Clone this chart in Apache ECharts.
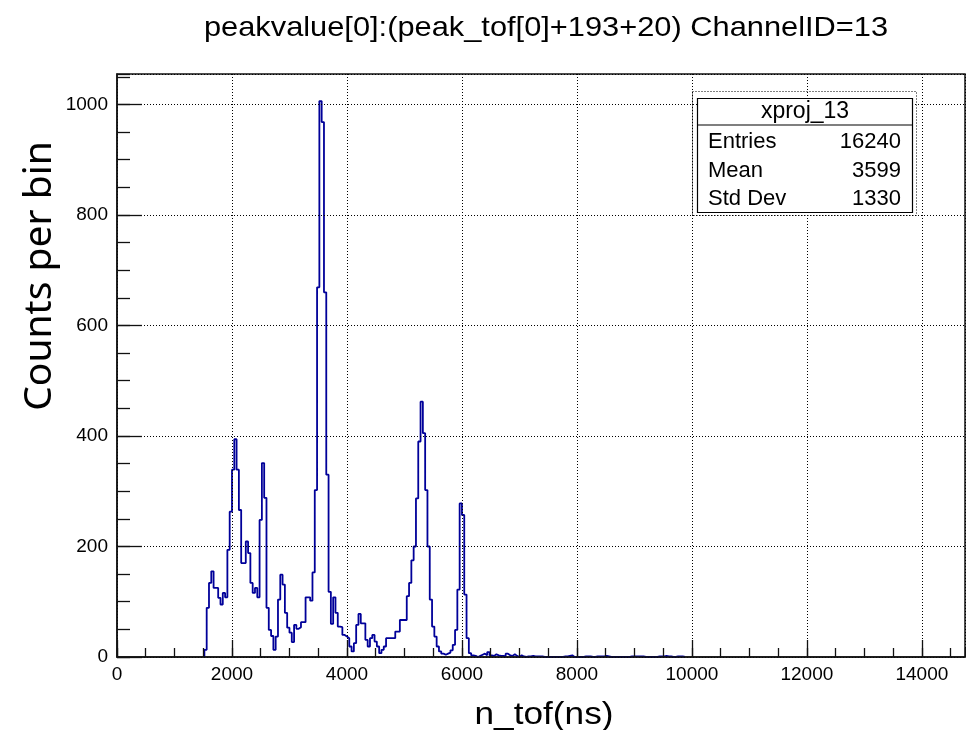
<!DOCTYPE html>
<html><head><meta charset="utf-8">
<script src="https://cdn.jsdelivr.net/npm/echarts@6/dist/echarts.min.js"></script>
<style>html,body{margin:0;padding:0;background:#fff}#c{width:966px;height:730px}</style>
</head><body><div id="c"></div>
<script>
// Histogram: 40 ns bins starting at 1520 ns
const binStart = 1520;
const binWidth = 40;
// 1520 .. 2980
const countsA = [13, 89, 134, 155, 125, 125, 107, 95, 116, 108,
  194, 263, 339, 394, 339, 266, 170, 170, 209, 188,
  134, 116, 125, 108, 248, 351, 288, 89, 49, 38,
  13, 37, 104, 149, 131, 80, 53];
// 3000 .. 4960
const countsB = [44, 27, 58, 51, 54, 63, 63, 108, 108, 102,
  153, 302, 669, 1006, 968, 660, 330, 118, 60, 108,
  80, 55, 54, 40, 37, 34, 19, 10, 25, 58,
  78, 61, 61, 31, 19, 34, 40, 28, 19, 7,
  13, 19, 34, 34, 34, 34, 46, 46, 67, 67];
// 5000 .. 6160
const countsC = [67, 110, 134, 175, 200, 287, 390, 462, 405, 302,
  200, 104, 55, 37, 19, 10, 6, 4, 6, 8,
  12, 22, 49, 122, 278, 257, 113, 34, 7, 3];
// 6200 .. 9760
const countsD = [2, 0, 2, 4, 6, 3, 9, 3, 2, 5,
  3, 2, 2, 1, 6, 3, 2, 5, 2, 0,
  3, 1, 0, 1, 1, 2, 1, 1, 1, 1,
  0, 0, 0, 0, 0, 0, 0, 0, 0, 1,
  1, 2, 3, 0, 0, 0, 0, 0, 1, 1,
  1, 0, 0, 1, 1, 1, 1, 2, 1, 0,
  0, 0, 0, 0, 0, 0, 0, 0, 1, 1,
  1, 1, 1, 1, 0, 0, 0, 0, 0, 0,
  1, 1, 1, 2, 1, 1, 0, 0, 1, 1,
  1, 0];
const counts = countsA.concat(countsB, countsC, countsD);

const xMin = 0, xMax = 14750, xMajor = 2000, xMinor = 500;
const yMin = 0, yMax = 1055, yMajor = 200, yMinor = 50;

const titleText = 'peakvalue[0]:(peak_tof[0]+193+20) ChannelID=13';
const xTitle = 'n_tof(ns)';
const yTitle = 'Counts per bin';
const statsName = 'xproj_13';
const statsLabels = ['Entries', 'Mean', 'Std Dev'];
const statsValues = ['16240', '3599', '1330'];

const data = [[binStart, 0]];
counts.forEach((c, i) => data.push([binStart + i * binWidth, c]));
data.push([binStart + counts.length * binWidth, 0]);

const font = 'Liberation Sans, Arial, Helvetica, sans-serif';
const chart = echarts.init(document.getElementById('c'), null, {renderer: 'canvas'});

const plain = v => String(v);
const gridLine = {show: true, lineStyle: {color: '#000', type: [1, 2], width: 1}};
const option = {
  animation: false,
  backgroundColor: '#fff',
  grid: {left: 117, right: 1, top: 74, bottom: 73, show: true, borderColor: '#111', borderWidth: 1.5, backgroundColor: 'transparent'},
  xAxis: [
    {type: 'value', min: xMin, max: xMax, interval: xMajor, position: 'bottom', z: 5,
     axisLine: {show: true, onZero: false, lineStyle: {color: '#111', width: 1.5}},
     axisTick: {show: true, inside: true, length: 17, lineStyle: {color: '#111', width: 1.3}},
     axisLabel: {show: true, showMaxLabel: false, margin: 8, color: '#000', fontFamily: font, fontSize: 19, formatter: plain},
     splitLine: gridLine},
    {type: 'value', min: xMin, max: xMax, interval: xMinor, position: 'bottom', z: 5,
     axisLine: {show: false},
     axisTick: {show: true, inside: true, length: 9, lineStyle: {color: '#111', width: 1.3}},
     axisLabel: {show: false}, splitLine: {show: false}}
  ],
  yAxis: [
    {type: 'value', min: yMin, max: yMax, interval: yMajor, position: 'left', z: 5,
     axisLine: {show: true, onZero: false, lineStyle: {color: '#111', width: 1.5}},
     axisTick: {show: true, inside: true, length: 25, lineStyle: {color: '#111', width: 1.3}},
     axisLabel: {show: true, showMaxLabel: false, margin: 9, color: '#000', fontFamily: font, fontSize: 19, formatter: plain},
     splitLine: gridLine},
    {type: 'value', min: yMin, max: yMax, interval: yMinor, position: 'left', z: 5,
     axisLine: {show: false},
     axisTick: {show: true, inside: true, length: 13, lineStyle: {color: '#111', width: 1.3}},
     axisLabel: {show: false}, splitLine: {show: false}}
  ],
  series: [{
    type: 'line', xAxisIndex: 0, yAxisIndex: 0, step: 'end', symbol: 'none',
    data: data, lineStyle: {color: '#000099', width: 1.8}, z: 2
  }],
  graphic: [
    {type: 'text', x: 546, y: 28, scaleX: 1.1, z: 20,
     style: {text: titleText, font: '28px ' + font, fill: '#000', align: 'center', verticalAlign: 'middle'}},
    {type: 'text', x: 544, y: 715, scaleX: 1.1, z: 20,
     style: {text: xTitle, font: '32px ' + font, fill: '#000', align: 'center', verticalAlign: 'middle'}},
    {type: 'text', x: 40, y: 276, rotation: Math.PI / 2, z: 20,
     style: {text: yTitle, font: '39px Noto Sans, sans-serif', fill: '#000', align: 'center', verticalAlign: 'middle'}},
    {type: 'rect', z: 19, shape: {x: 692.5, y: 91.5, width: 224, height: 124},
     style: {fill: 'none', stroke: '#000', lineWidth: 1, lineDash: [1, 2]}},
    {type: 'rect', z: 20, shape: {x: 697.5, y: 98.5, width: 215, height: 114},
     style: {fill: '#fff', stroke: '#000', lineWidth: 1.2}},
    {type: 'line', z: 21, shape: {x1: 697.5, y1: 125, x2: 912.5, y2: 125}, style: {stroke: '#000', lineWidth: 1.2}},
    {type: 'text', x: 805, y: 112, z: 21,
     style: {text: statsName, font: '23px ' + font, fill: '#000', align: 'center', verticalAlign: 'middle'}}
  ].concat(statsLabels.map((t, i) => ({type: 'text', x: 708, y: 142 + i * 28.5, z: 21,
     style: {text: t, font: '22px ' + font, fill: '#000', align: 'left', verticalAlign: 'middle'}})))
   .concat(statsValues.map((t, i) => ({type: 'text', x: 901, y: 142 + i * 28.5, z: 21,
     style: {text: t, font: '22px ' + font, fill: '#000', align: 'right', verticalAlign: 'middle'}})))
};
chart.setOption(option);
</script>
</body></html>
